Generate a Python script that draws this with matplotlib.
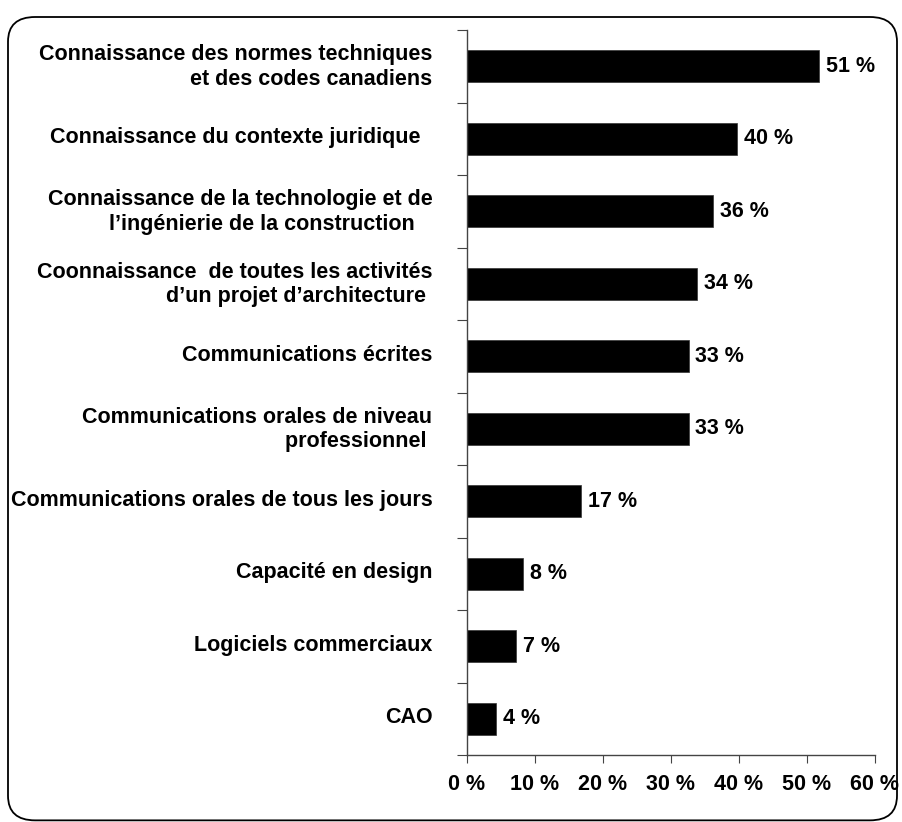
import matplotlib.pyplot as plt
from matplotlib.patches import FancyBboxPatch

plt.rcParams['font.family'] = ['Liberation Sans', 'DejaVu Sans']

# categories from top to bottom
categories = [
    'Connaissance des normes techniques\net des codes canadiens',
    'Connaissance du contexte juridique  ',
    'Connaissance de la technologie et de\nl\u2019ing\u00e9nierie de la construction   ',
    'Coonnaissance  de toutes les activit\u00e9s\nd\u2019un projet d\u2019architecture ',
    'Communications \u00e9crites',
    'Communications orales de niveau\nprofessionnel ',
    'Communications orales de tous les jours',
    'Capacit\u00e9 en design',
    'Logiciels commerciaux',
    'CAO',
]
values = [51.8, 39.7, 36.2, 33.8, 32.6, 32.6, 16.8, 8.2, 7.2, 4.3]
value_labels = ['51 %', '40 %', '36 %', '34 %', '33 %', '33 %', '17 %', '8 %', '7 %', '4 %']
xticks = [0, 10, 20, 30, 40, 50, 60]
xtick_labels = ['0 %', '10 %', '20 %', '30 %', '40 %', '50 %', '60 %']

fs = 15.5

fig = plt.figure(figsize=(9.03, 8.22), dpi=100)

# rounded frame around the chart
frame = FancyBboxPatch((8 / 903, 0.002), 889 / 903, 1 - 17 / 822 - 0.002,
                       boxstyle='round,pad=0,rounding_size=0.03',
                       transform=fig.transFigure, fill=False,
                       edgecolor='black', linewidth=1.3)
fig.patches.append(frame)

ax = fig.add_axes([467 / 903, 1 - 755 / 822, 408 / 903, 725 / 822])

n = len(categories)
ypos = list(range(n))
ax.barh(ypos, values, height=0.44, color='black', edgecolor='#333333', linewidth=0.5)
ax.set_ylim(n - 0.5, -0.5)
ax.set_xlim(0, 60)

for y, v, lab in zip(ypos, values, value_labels):
    ax.text(v + 1.0, y, lab, va='center', ha='left', fontsize=fs, fontweight='bold')

ax.set_xticks(xticks)
ax.set_xticklabels(xtick_labels, fontsize=fs, fontweight='bold')

# category ticks sit between bars, labels near bar centres (a bit higher, as in the original)
ax.set_yticks([i + 0.5 for i in range(-1, n)])
ax.set_yticklabels([])
ax.set_yticks([y - 0.05 for y in ypos], minor=True)
ax.set_yticklabels(categories, minor=True, fontsize=fs, fontweight='bold',
                   linespacing=1.22, multialignment='right')
ax.tick_params(axis='y', which='minor', length=0, pad=25)
ax.tick_params(axis='y', which='major', length=7, direction='out', color='#444444')
ax.tick_params(axis='x', length=6, direction='out', color='#444444', pad=8)

for s in ['top', 'right']:
    ax.spines[s].set_visible(False)
for s in ['left', 'bottom']:
    ax.spines[s].set_color('#444444')
    ax.spines[s].set_linewidth(1.0)

fig.savefig('out.png', dpi=100)
